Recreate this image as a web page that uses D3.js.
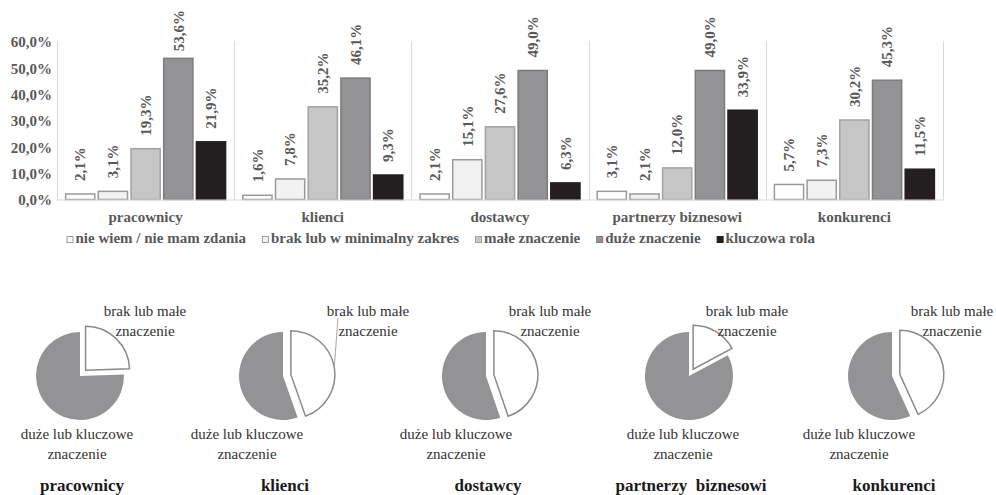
<!DOCTYPE html>
<html>
<head>
<meta charset="utf-8">
<script src="https://cdn.jsdelivr.net/npm/d3@7"></script>
<style>
html,body{margin:0;padding:0;background:#fff;}
svg{display:block;}
</style>
</head>
<body>
<svg id="chart" width="996" height="495"></svg>
<script>
// ---------- data ----------
const categories = ["pracownicy", "klienci", "dostawcy", "partnerzy biznesowi", "konkurenci"];
const seriesNames = ["nie wiem / nie mam zdania", "brak lub w minimalny zakres", "małe znaczenie", "duże znaczenie", "kluczowa rola"];
const nieWiem = [2.1, 1.6, 2.1, 3.1, 5.7];
const brakMinimalny = [3.1, 7.8, 15.1, 2.1, 7.3];
const maleZnaczenie = [19.3, 35.2, 27.6, 12.0, 30.2];
const duzeZnaczenie = [53.6, 46.1, 49.0, 49.0, 45.3];
const kluczowaRola = [21.9, 9.3, 6.3, 33.9, 11.5];
const yTicks = [0, 10, 20, 30, 40, 50, 60];

const pieTitles = ["pracownicy", "klienci", "dostawcy", "partnerzy\u00a0 biznesowi", "konkurenci"];
const pieBrakMale = [24.5, 44.6, 44.8, 17.2, 43.2];
const pieDuzeKluczowe = [75.5, 55.4, 55.3, 82.9, 56.8];
const pieSliceLabels = [["brak lub małe", "znaczenie"], ["duże lub kluczowe", "znaczenie"]];

// ---------- styles ----------
const serif = "'Liberation Serif','Times New Roman',Times,serif";
const fills = ["#ffffff", "#f2f2f2", "#c6c6c6", "#939395", "#231f20"];
const strokes = ["#9a9a9a", "#9a9a9a", "#a3a3a3", "#7d7d7f", "#231f20"];
const textGray = "#595959";

const svg = d3.select("#chart");
const seriesValues = [nieWiem, brakMinimalny, maleZnaczenie, duzeZnaczenie, kluczowaRola];

// ---------- bar chart ----------
const x0 = d3.scaleBand().domain(categories).range([57, 943]).padding(0);
const gw = x0.bandwidth();
const x1 = d3.scaleBand().domain(seriesNames).range([8.6, gw - 8.6]).paddingInner(0.107);
const y = d3.scaleLinear().domain([0, 60]).range([199.5, 41.5]);

// gridlines (vertical separators)
const seps = categories.map(c => x0(c)).concat([x0.range()[1]]);
svg.append("g").selectAll("line").data(seps).join("line")
  .attr("x1", d => Math.round(d) + 0.5).attr("x2", d => Math.round(d) + 0.5)
  .attr("y1", y(60)).attr("y2", y(0))
  .attr("stroke", "#d9d9d9").attr("stroke-width", 1);

// y axis labels
const yAxis = d3.axisLeft(y).tickValues(yTicks).tickSize(0).tickPadding(0)
  .tickFormat(d => d.toFixed(1).replace(".", ",") + "%");
const ya = svg.append("g").attr("transform", "translate(52,0)").call(yAxis);
ya.select(".domain").remove();
ya.selectAll("text").attr("font-family", serif).attr("font-weight", "bold")
  .attr("font-size", 15).attr("fill", textGray).attr("dy", "0.35em");

// bars
const groups = svg.append("g").selectAll("g").data(categories).join("g")
  .attr("transform", d => `translate(${x0(d)},0)`);

groups.each(function(cat, ci) {
  const g = d3.select(this);
  const rows = seriesNames.map((s, si) => ({s, si, v: seriesValues[si][ci]}));
  g.selectAll("rect").data(rows).join("rect")
    .attr("x", d => x1(d.s))
    .attr("y", d => y(d.v))
    .attr("width", x1.bandwidth())
    .attr("height", d => y(0) - y(d.v))
    .attr("fill", d => fills[d.si])
    .attr("stroke", d => strokes[d.si])
    .attr("stroke-width", 1.5);
  const labels = g.selectAll("text.val").data(rows).join("text")
    .attr("class", "val")
    .attr("font-family", serif).attr("font-weight", "bold").attr("font-size", 15)
    .attr("fill", textGray)
    .attr("text-anchor", "start")
    .attr("dy", "0.35em")
    .text(d => d.v.toFixed(1).replace(".", ",") + "%");
  labels.each(function(d) {
    const len = this.getComputedTextLength();
    let start = y(d.v) - 13;
    if (start - len < 10) start = 10 + len;
    const cx = x1(d.s) + x1.bandwidth() / 2;
    d3.select(this).attr("transform", `translate(${cx},${start}) rotate(-90)`);
  });
});

// baseline
svg.append("line").attr("x1", 57).attr("x2", 943).attr("y1", y(0) + 0.5).attr("y2", y(0) + 0.5)
  .attr("stroke", "#d9d9d9").attr("stroke-width", 1);

// category labels
svg.append("g").selectAll("text").data(categories).join("text")
  .attr("x", d => x0(d) + gw / 2).attr("y", 222)
  .attr("text-anchor", "middle")
  .attr("font-family", serif).attr("font-weight", "bold").attr("font-size", 15)
  .attr("fill", textGray).text(d => d);

// legend
const legend = svg.append("g");
let lx = 66.5;
seriesNames.forEach((s, i) => {
  legend.append("rect").attr("x", lx + 0.5).attr("y", 236.5).attr("width", 6).attr("height", 6)
    .attr("fill", fills[i]).attr("stroke", strokes[i]).attr("stroke-width", 1);
  const t = legend.append("text").attr("x", lx + 9).attr("y", 243)
    .attr("font-family", serif).attr("font-weight", "bold").attr("font-size", 15)
    .attr("fill", textGray).text(s);
  lx += 9 + t.node().getComputedTextLength() + 16;
});

// ---------- pies ----------
const pieX = d3.scalePoint().domain(pieTitles).range([80, 892]);
const pieY = 376;
const R = 44;
const explode = 8;
const pie = d3.pie().sort(null).value(d => d);
const arc = d3.arc().innerRadius(0).outerRadius(R);
const topLabelDx = [65, 85, 64, 58, 60];
const bottomLabelDx = [-3, -36, -30, -6, -33];

pieTitles.forEach((title, i) => {
  const cx = pieX(title);
  const g = svg.append("g").attr("transform", `translate(${cx},${pieY})`);
  const arcs = pie([pieBrakMale[i], pieDuzeKluczowe[i]]);
  // gray slice first
  g.append("path").attr("d", arc(arcs[1])).attr("fill", "#939395");
  const mid = (arcs[0].startAngle + arcs[0].endAngle) / 2;
  const ox = Math.sin(mid) * explode, oy = -Math.cos(mid) * explode;
  g.append("path").attr("d", arc(arcs[0]))
    .attr("transform", `translate(${ox},${oy})`)
    .attr("fill", "#ffffff").attr("stroke", "#8a8a8a").attr("stroke-width", 1.5)
    .attr("stroke-linejoin", "miter");

  // labels
  const tl = g.append("text").attr("text-anchor", "middle")
    .attr("font-family", serif).attr("font-size", 15).attr("fill", "#333333");
  pieSliceLabels[0].forEach((line, li) => {
    tl.append("tspan").attr("x", topLabelDx[i]).attr("y", -60 + li * 19.5).text(line);
  });
  const bl = g.append("text").attr("text-anchor", "middle")
    .attr("font-family", serif).attr("font-size", 15).attr("fill", "#333333");
  pieSliceLabels[1].forEach((line, li) => {
    bl.append("tspan").attr("x", bottomLabelDx[i]).attr("y", 63 + li * 19.5).text(line);
  });

  // leader line where label is displaced far from slice
  if (topLabelDx[i] > 80) {
    const rr = R + explode;
    g.append("line")
      .attr("x1", Math.sin(mid) * rr).attr("y1", -Math.cos(mid) * rr)
      .attr("x2", topLabelDx[i] - 30).attr("y2", -58)
      .attr("stroke", "#a6a6a6").attr("stroke-width", 1);
  }

  // title
  svg.append("text").attr("x", cx + 2).attr("y", 491).attr("text-anchor", "middle")
    .attr("font-family", serif).attr("font-weight", "bold").attr("font-size", 17)
    .attr("fill", "#1a1a1a").text(title);
});
</script>
</body>
</html>
